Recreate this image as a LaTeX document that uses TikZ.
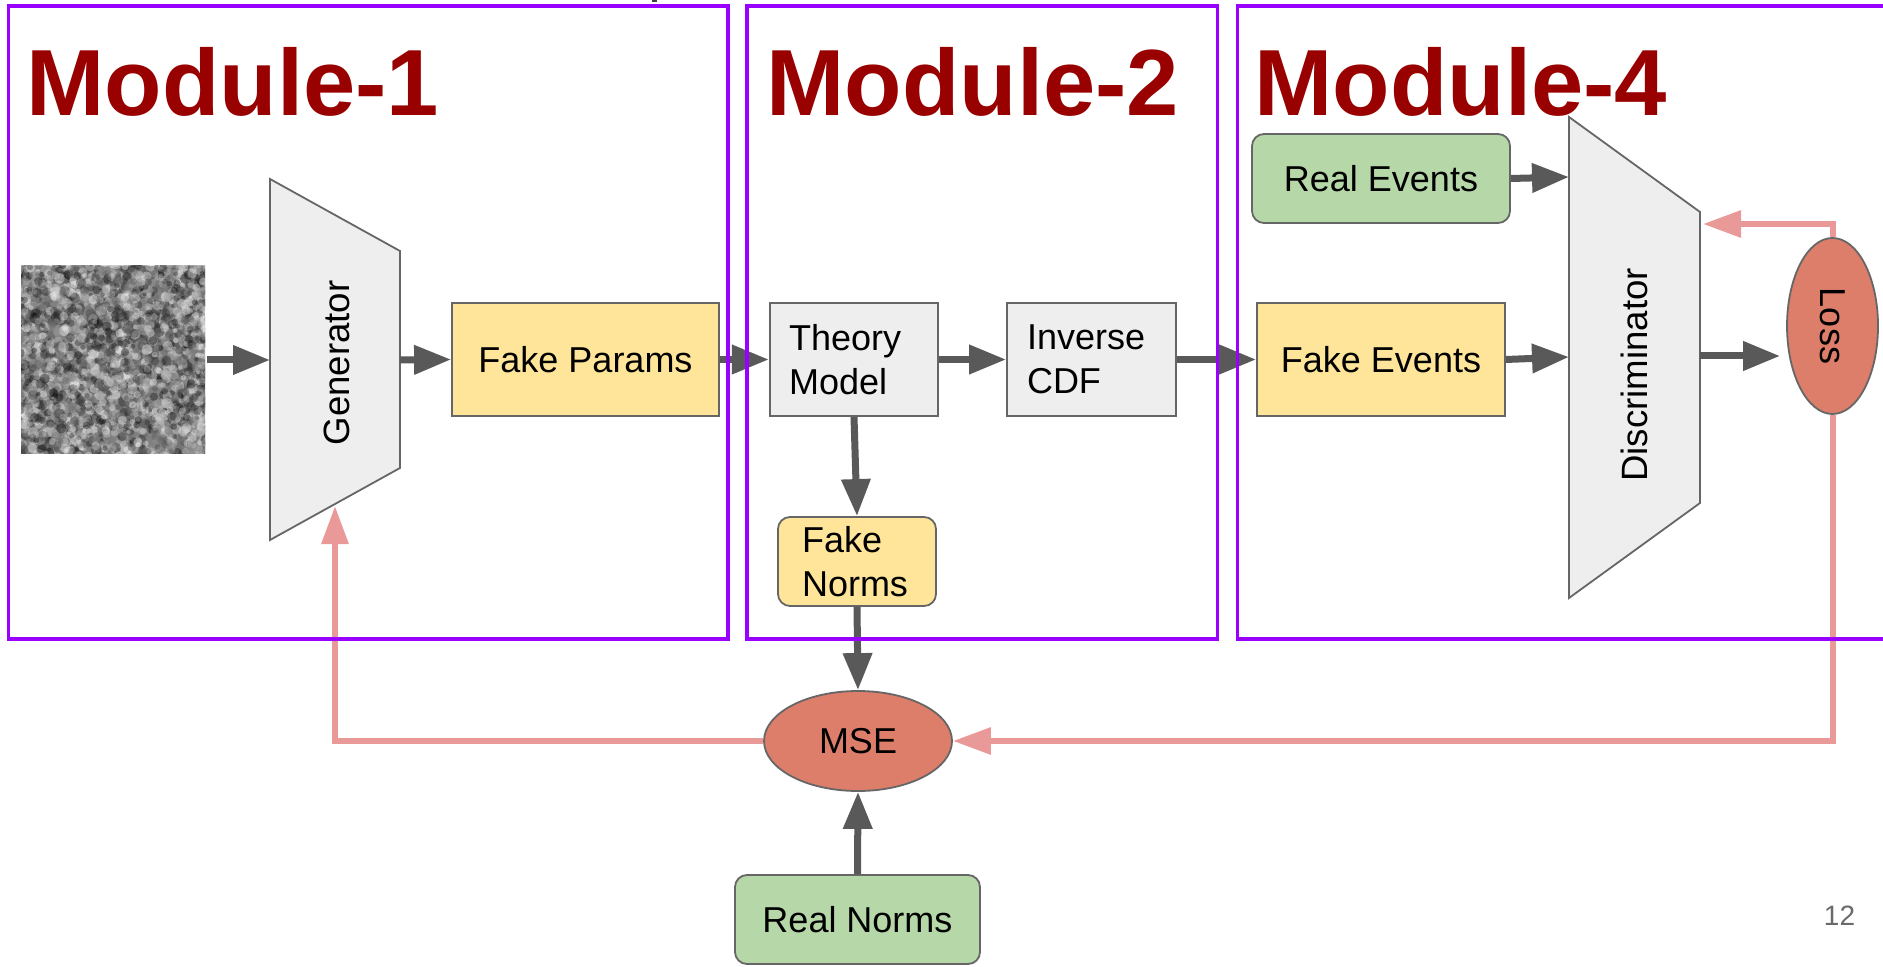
\documentclass[tikz,border=0pt]{standalone}
\usepackage{fontspec}
\setmainfont{Liberation Sans}
\usetikzlibrary{arrows.meta,shapes.geometric,calc}

\definecolor{modpurple}{HTML}{9900FF}
\definecolor{titlered}{HTML}{990000}
\definecolor{fakeyellow}{HTML}{FFE599}
\definecolor{realgreen}{HTML}{B6D7A8}
\definecolor{procgray}{HTML}{EEEEEE}
\definecolor{lossred}{HTML}{DD7E6B}
\definecolor{fbpink}{HTML}{EA9999}
\definecolor{flowgray}{HTML}{595959}
\definecolor{edgegray}{HTML}{666666}
\definecolor{pagegray}{HTML}{6A6A6A}

\begin{document}
\begin{tikzpicture}[x=0.5pt,y=-0.5pt,
  box/.style={draw=edgegray, line width=0.9pt, inner sep=0pt,
    font=\fontsize{18}{22}\selectfont, minimum height=56.5pt},
  fakebox/.style={box, fill=fakeyellow},
  procbox/.style={box, fill=procgray, align=left},
  realbox/.style={box, fill=realgreen, rounded corners=6pt, minimum height=44.5pt},
  lossnode/.style={ellipse, draw=edgegray, line width=0.9pt, fill=lossred,
    inner sep=0pt, font=\fontsize{18}{22}\selectfont},
  netshape/.style={draw=edgegray, line width=0.9pt, fill=procgray},
  netlabel/.style={inner sep=0pt, font=\fontsize{18.3}{22}\selectfont},
  flow/.style={draw=flowgray, line width=3.5pt, -{Triangle[length=18.5pt,width=14pt]}},
  feedback/.style={draw=fbpink, line width=3pt, -{Triangle[length=19pt,width=13pt]}},
  modframe/.style={draw=modpurple, line width=1.75pt},
  modtitle/.style={anchor=base west, inner sep=0pt, text=titlered,
    font=\fontsize{47}{56}\selectfont\bfseries}
]
\clip (0,0) rectangle (1883,967);
\fill[white] (0,0) rectangle (1883,967);

% cut-off glyph at the top edge
\fill[black!75] (652,0) rectangle (657,1.6);

% latent noise input: soft overlapping grey blobs
\begin{scope}
  \clip (21,266) rectangle (205,454);
  \fill[black!50] (21,266) rectangle (205,454);
  \pgfmathsetseed{4242}
  \foreach \k in {1,...,3200}{
    \pgfmathsetmacro\nx{17+192*rnd}
    \pgfmathsetmacro\ny{262+196*rnd}
    \pgfmathsetmacro\nr{2+3.5*rnd}
    \pgfmathtruncatemacro\nv{100*rnd}
    \fill[black!\nv!white, opacity=0.4] (\nx,\ny) circle[radius=\nr];
  }
\end{scope}
\coordinate (noiseout) at (207,360);

% generator
\draw[netshape] (270,179) -- (400,251) -- (400,468) -- (270,540) -- cycle;
\node[netlabel] (gen) at (337,363) {\rotatebox{90}{Generator}};
\coordinate (genin) at (270,360);
\coordinate (genout) at (400,360);
\coordinate (genfb) at (335,506);

% discriminator
\draw[netshape] (1569,117) -- (1700,212) -- (1700,503) -- (1569,598) -- cycle;
\node[netlabel] (disc) at (1634,375) {\rotatebox{90}{Discriminator}};
\coordinate (discA) at (1569,177);
\coordinate (discB) at (1569,357);
\coordinate (discout) at (1700,356);
\coordinate (discfb) at (1703,224);

% data boxes
\node[fakebox, minimum width=133.5pt] (fparams) at (585.5,359.5) {Fake Params};
\node[procbox, minimum width=84.25pt, text width=65pt] (theory) at (854,359.5) {Theory\\Model};
\node[procbox, minimum width=84.5pt, text width=64.5pt] (icdf) at (1091.5,359.5) {Inverse\\CDF};
\node[fakebox, minimum width=124pt] (fevents) at (1381,359.5) {Fake Events};
\node[realbox, minimum width=129pt] (revents) at (1381,178.5) {Real Events};
\node[fakebox, rounded corners=6pt, minimum width=79pt, minimum height=44.5pt,
      align=left, text width=55pt] (fnorms) at (857,561.5) {Fake\\Norms};
\node[realbox, minimum width=122.5pt] (rnorms) at (857.5,919.5) {Real Norms};

% losses
\node[lossnode, minimum width=94pt, minimum height=50pt] (mse) at (858,741) {MSE};
\node[lossnode, minimum width=45.5pt, minimum height=88pt] (loss) at (1832.5,326) {\rotatebox{-90}{Loss}};

% forward flow
\draw[flow] (noiseout) -- (genin);
\draw[flow] (genout) -- (fparams.west);
\draw[flow] (fparams.east) -- (theory.west);
\draw[flow] (theory.east) -- (icdf.west);
\draw[flow] (icdf.east) -- (fevents.west);
\draw[flow] (theory.south) -- (fnorms.north);
\draw[flow] (fnorms.south) -- (mse.north);
\draw[flow] (rnorms.north) -- (mse.south);
\draw[flow] (revents.east) -- (discA);
\draw[flow] (fevents.east) -- (discB);
\draw[flow, shorten >=3pt] (discout) -- (discout -| loss.west);

% feedback paths
\draw[feedback] (loss.north) |- (discfb);
\draw[feedback] (loss.south) |- (mse.east);
\draw[feedback] (mse.west) -| (genfb);

% module frames
\draw[modframe] (8.5,6) rectangle (728,639);
\draw[modframe] (747,6) rectangle (1217.5,639);
\draw[modframe] (1237.5,6) rectangle (1910,639);

% module titles
\node[modtitle] (title1) at (26,116) {Module-1};
\node[modtitle] (title2) at (766,116) {Module-2};
\node[modtitle] (title4) at (1254,116) {Module-4};

% page number
\node[inner sep=0pt, text=pagegray, font=\fontsize{14}{16}\selectfont] (pagenum) at (1839.5,915.5) {12};
\end{tikzpicture}
\end{document}
